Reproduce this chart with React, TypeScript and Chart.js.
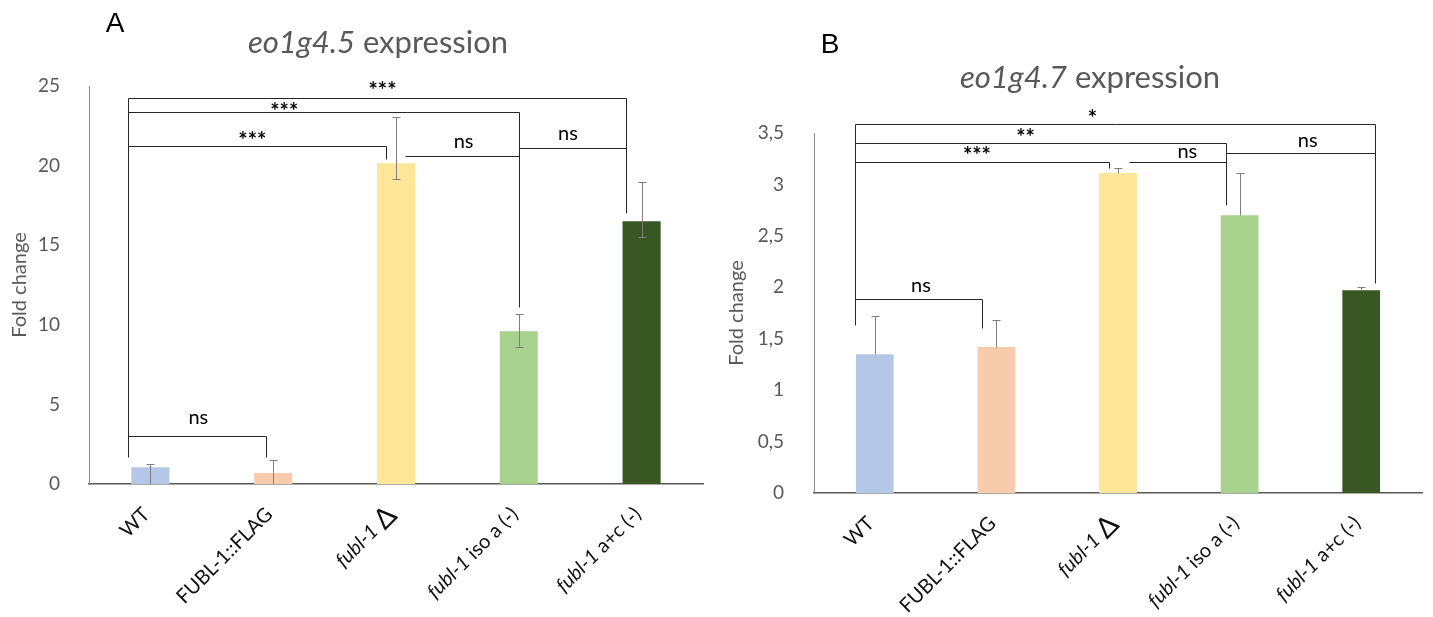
import React, { useEffect, useRef } from 'react';
import { Chart, registerables } from 'chart.js';

Chart.register(...registerables);

// ---------------- data ----------------
const categories = ['WT', 'FUBL-1::FLAG', 'fubl-1 Δ', 'fubl-1 iso a (-)', 'fubl-1 a+c (-)'];
const barColors = ['#B4C7E7', '#F8CBAD', '#FFE699', '#A9D18E', '#385723'];

// Panel A : eo1g4.5
const valuesA = [1.05, 0.69, 20.15, 9.6, 16.5];
const errPlusA = [0.22, 0.8, 2.9, 1.07, 2.45];
const errMinusA = [1.2, 0.8, 1.0, 1.0, 1.0];
const yTickLabelsA = ['0', '5', '10', '15', '20', '25'];

// Panel B : eo1g4.7
const valuesB = [1.35, 1.42, 3.11, 2.7, 1.97];
const errPlusB = [0.37, 0.26, 0.05, 0.41, 0.03];
const errMinusB = [0, 0, 0, 0, 0];
const yTickLabelsB = ['0', '0,5', '1', '1,5', '2', '2,5', '3', '3,5'];

type Bracket = { x1: number; x2: number; y: number; drop1?: number; drop2?: number; label: string; lx: number; ly: number };

const bracketsA: Bracket[] = [
  { x1: -0.18, x2: 3.87, y: 24.25, drop1: 1.7, drop2: 17.0, label: '***', lx: 1.89, ly: 24.95 },
  { x1: -0.18, x2: 3.0, y: 23.37, drop2: 11.1, label: '***', lx: 1.09, ly: 23.62 },
  { x1: -0.18, x2: 1.92, y: 21.23, drop2: 20.41, label: '***', lx: 0.83, ly: 21.8 },
  { x1: 2.07, x2: 3.0, y: 20.6, label: 'ns', lx: 2.55, ly: 21.42 },
  { x1: 3.0, x2: 3.87, y: 21.1, label: 'ns', lx: 3.4, ly: 21.92 },
  { x1: -0.18, x2: 0.94, y: 3.02, drop2: 1.7, label: 'ns', lx: 0.39, ly: 4.08 },
];

const bracketsB: Bracket[] = [
  { x1: -0.16, x2: 4.11, y: 3.59, drop1: 1.63, drop2: 2.04, label: '*', lx: 1.79, ly: 3.68 },
  { x1: -0.16, x2: 2.89, y: 3.4, drop2: 2.8, label: '**', lx: 1.24, ly: 3.49 },
  { x1: -0.16, x2: 1.93, y: 3.22, drop2: 3.16, label: '***', lx: 0.84, ly: 3.32 },
  { x1: 2.09, x2: 2.89, y: 3.22, label: 'ns', lx: 2.57, ly: 3.31 },
  { x1: 2.89, x2: 4.11, y: 3.31, label: 'ns', lx: 3.56, ly: 3.41 },
  { x1: -0.16, x2: 0.88, y: 1.89, drop2: 1.6, label: 'ns', lx: 0.38, ly: 2.0 },
];

// ---------------- styling ----------------
const FONT = 'Lato';
const GREY = '#595959';

type PanelCfg = {
  canvasLeft: number;
  width: number;
  letter: string;
  letterX: number;
  letterY: number;
  titleItalic: string;
  titleRest: string;
  titleX: number;
  titleY: number;
  values: number[];
  plus: number[];
  minus: number[];
  brackets: Bracket[];
  yMax: number;
  yStep: number;
  yTickLabels: string[];
  areaLeft: number;
  areaRightPad: number;
  areaTop: number;
  areaBottom: number;
  tickPad: number;
  yTitlePad: number;
};

const H = 617;

function labelSegments(label: string) {
  const segs: { t: string; italic: boolean; big: boolean }[] = [];
  let rest = label;
  const m = label.match(/^(fubl-1)(.*)$/);
  if (m) {
    segs.push({ t: m[1], italic: true, big: false });
    rest = m[2];
  }
  rest.split(/(Δ)/).forEach((p) => {
    if (p) segs.push({ t: p, italic: false, big: p === 'Δ' });
  });
  return segs;
}

function makeDecor(cfg: PanelCfg) {
  return {
    id: 'decor' + cfg.letter,
    afterDatasetsDraw(chart: any) {
      const ctx: CanvasRenderingContext2D = chart.ctx;
      const xs = chart.scales.x;
      const ys = chart.scales.y;
      const area = chart.chartArea;
      const px = (v: number) => Math.round(xs.getPixelForValue(v)) + 0.5;
      const py = (v: number) => Math.round(ys.getPixelForValue(v)) + 0.5;
      ctx.save();

      // error bars
      ctx.strokeStyle = '#7f7f7f';
      ctx.lineWidth = 1;
      cfg.values.forEach((v, i) => {
        const x = px(i);
        const top = py(v + cfg.plus[i]);
        const lowVal = v - cfg.minus[i];
        const bot = cfg.minus[i] > 0 ? py(Math.max(0, lowVal)) : py(v);
        ctx.beginPath();
        ctx.moveTo(x, top);
        ctx.lineTo(x, bot);
        ctx.moveTo(x - 4, top);
        ctx.lineTo(x + 4, top);
        if (cfg.minus[i] > 0 && lowVal > 0) {
          ctx.moveTo(x - 4, bot);
          ctx.lineTo(x + 4, bot);
        }
        ctx.stroke();
      });

      // significance brackets
      ctx.strokeStyle = '#262626';
      ctx.lineWidth = 1;
      cfg.brackets.forEach((b) => {
        const x1 = px(b.x1);
        const x2 = px(b.x2);
        const y = py(b.y);
        ctx.beginPath();
        ctx.moveTo(x1, y);
        ctx.lineTo(x2, y);
        if (b.drop1 !== undefined) {
          ctx.moveTo(x1, y);
          ctx.lineTo(x1, py(b.drop1));
        }
        if (b.drop2 !== undefined) {
          ctx.moveTo(x2, y);
          ctx.lineTo(x2, py(b.drop2));
        }
        ctx.stroke();
      });
      ctx.fillStyle = '#000';
      ctx.textAlign = 'center';
      ctx.textBaseline = 'alphabetic';
      cfg.brackets.forEach((b) => {
        const star = b.label.includes('*');
        const size = star ? 22 : 20;
        ctx.font = `${star ? 'bold ' : ''}${size}px ${FONT}`;
        const off = star ? 0.52 * size : 0.26 * size;
        ctx.fillText(b.label, xs.getPixelForValue(b.lx), ys.getPixelForValue(b.ly) + off);
      });

      // x category labels (rotated, mixed italic)
      ctx.fillStyle = '#111';
      ctx.textBaseline = 'middle';
      ctx.textAlign = 'left';
      categories.forEach((lab, i) => {
        const segs = labelSegments(lab);
        const fontFor = (s: { italic: boolean; big: boolean }) =>
          `${s.italic ? 'italic ' : ''}${s.big ? 28 : 20}px ${FONT}`;
        let total = 0;
        const widths = segs.map((s) => {
          ctx.font = fontFor(s);
          const w = ctx.measureText(s.t).width;
          total += w;
          return w;
        });
        ctx.save();
        ctx.translate(xs.getPixelForValue(i) - 4, area.bottom + 27);
        ctx.rotate(-Math.PI / 4);
        let cur = -total;
        segs.forEach((s, k) => {
          ctx.font = fontFor(s);
          ctx.fillText(s.t, cur, 0);
          cur += widths[k];
        });
        ctx.restore();
      });

      // title
      ctx.fillStyle = GREY;
      ctx.textBaseline = 'middle';
      ctx.textAlign = 'left';
      const ts = 31;
      ctx.font = `italic ${ts}px ${FONT}`;
      const w1 = ctx.measureText(cfg.titleItalic).width;
      ctx.font = `${ts}px ${FONT}`;
      const w2 = ctx.measureText(cfg.titleRest).width;
      const start = cfg.titleX - (w1 + w2) / 2;
      ctx.font = `italic ${ts}px ${FONT}`;
      ctx.fillText(cfg.titleItalic, start, cfg.titleY);
      ctx.font = `${ts}px ${FONT}`;
      ctx.fillText(cfg.titleRest, start + w1, cfg.titleY);

      // panel letter
      ctx.fillStyle = '#000';
      ctx.textAlign = 'center';
      ctx.font = `28px "Liberation Sans"`;
      ctx.fillText(cfg.letter, cfg.letterX, cfg.letterY);

      ctx.restore();
    },
  };
}

function Panel({ cfg }: { cfg: PanelCfg }) {
  const ref = useRef<HTMLCanvasElement>(null);
  useEffect(() => {
    let chart: Chart | null = null;
    let cancelled = false;
    const fonts = [`18px ${FONT}`, `italic 18px ${FONT}`, `bold 18px ${FONT}`, `26px "Liberation Sans"`];
    const ready = (document as any).fonts
      ? Promise.all(fonts.map((f) => (document as any).fonts.load(f))).catch(() => null)
      : Promise.resolve(null);
    ready.then(() => {
      if (cancelled || !ref.current) return;
      chart = new Chart(ref.current, {
        type: 'bar',
        data: {
          labels: categories,
          datasets: [
            {
              data: cfg.values,
              backgroundColor: barColors,
              borderWidth: 0,
              barPercentage: 0.31,
              categoryPercentage: 1,
            },
          ],
        },
        options: {
          responsive: false,
          animation: false,
          devicePixelRatio: 1,
          layout: { padding: { top: cfg.areaTop, right: cfg.areaRightPad, left: 0, bottom: 0 } },
          plugins: {
            legend: { display: false },
            tooltip: { enabled: false },
            title: { display: false },
          },
          scales: {
            x: {
              grid: { display: false },
              ticks: { display: false },
              border: { display: true, color: '#595959', width: 1.5 },
              afterFit: (s: any) => {
                s.height = H - cfg.areaBottom;
              },
            },
            y: {
              min: 0,
              max: cfg.yMax,
              ticks: {
                stepSize: cfg.yStep,
                color: GREY,
                font: { family: FONT, size: 19 },
                padding: cfg.tickPad,
                callback: (_v: any, i: number) => cfg.yTickLabels[i],
              },
              grid: { display: false },
              border: { display: true, color: '#8c8c8c', width: 1 },
              title: {
                display: true,
                text: 'Fold change',
                color: GREY,
                font: { family: FONT, size: 20 },
                padding: { top: cfg.yTitlePad, bottom: 0 },
              },
              afterFit: (s: any) => {
                s.width = cfg.areaLeft;
              },
            },
          },
        } as any,
        plugins: [makeDecor(cfg)],
      });
    });
    return () => {
      cancelled = true;
      if (chart) chart.destroy();
    };
  }, []);
  return (
    <canvas
      ref={ref}
      width={cfg.width}
      height={H}
      style={{ position: 'absolute', left: cfg.canvasLeft, top: 0, width: cfg.width, height: H }}
    />
  );
}

const panelA: PanelCfg = {
  canvasLeft: 0,
  width: 716,
  letter: 'A',
  letterX: 115,
  letterY: 24,
  titleItalic: 'eo1g4.5',
  titleRest: ' expression',
  titleX: 378,
  titleY: 43,
  values: valuesA,
  plus: errPlusA,
  minus: errMinusA,
  brackets: bracketsA,
  yMax: 25,
  yStep: 5,
  yTickLabels: yTickLabelsA,
  areaLeft: 89,
  areaRightPad: 13,
  areaTop: 86,
  areaBottom: 484,
  tickPad: 21,
  yTitlePad: 8,
};

const panelB: PanelCfg = {
  canvasLeft: 716,
  width: 717,
  letter: 'B',
  letterX: 114,
  letterY: 45,
  titleItalic: 'eo1g4.7',
  titleRest: ' expression',
  titleX: 374,
  titleY: 78,
  values: valuesB,
  plus: errPlusB,
  minus: errMinusB,
  brackets: bracketsB,
  yMax: 3.5,
  yStep: 0.5,
  yTickLabels: yTickLabelsB,
  areaLeft: 98,
  areaRightPad: 11,
  areaTop: 133,
  areaBottom: 493,
  tickPad: 22,
  yTitlePad: 9,
};

export default function App() {
  return (
    <div style={{ position: 'fixed', left: 0, top: 0, width: 1433, height: H, background: '#fff' }}>
      <Panel cfg={panelA} />
      <Panel cfg={panelB} />
    </div>
  );
}
